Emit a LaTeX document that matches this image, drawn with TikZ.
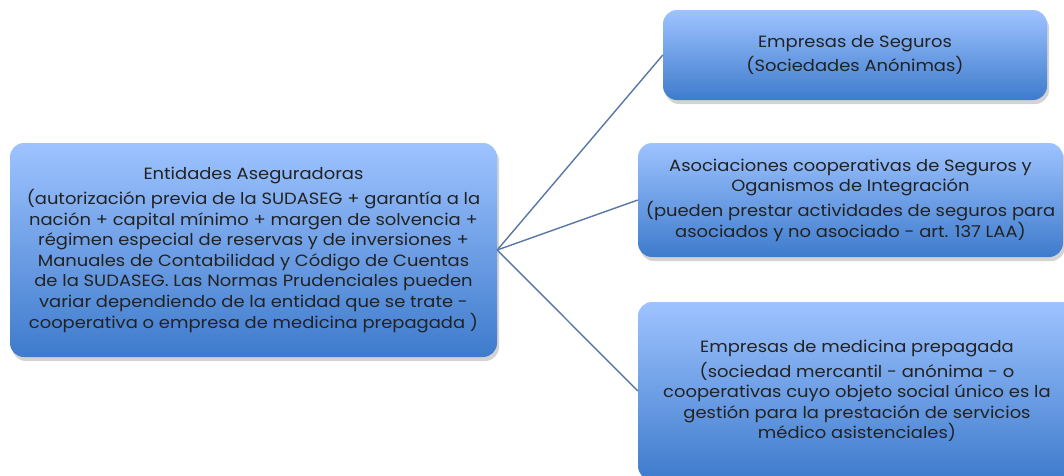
\documentclass[tikz,border=0pt]{standalone}
\usepackage{fontspec}
\setmainfont{Poppins}[FakeStretch=1.1]
\usetikzlibrary{shadows}
\definecolor{boxtop}{HTML}{9EC3FF}
\definecolor{boxbot}{HTML}{3E7BCC}
\definecolor{linkc}{HTML}{5877A6}
\definecolor{txt}{HTML}{222222}
\begin{document}
\begin{tikzpicture}[x=1pt,y=-1pt,
  entbox/.style={rounded corners=14pt, top color=boxtop, bottom color=boxbot,
    draw=none, align=center, text=txt, inner sep=0pt,
    font=\fontsize{16.3}{20.6}\selectfont,
    drop shadow={shadow xshift=2pt, shadow yshift=-4pt, opacity=0.35}},
  link/.style={draw=linkc, line width=1.4pt}]
\useasboundingbox (0,0) rectangle (1064,475);
\node[entbox, minimum width=487pt, minimum height=214pt] (main) at (253.5,250)
  {Entidades Aseguradoras\\[4pt]
  (autorización previa de la SUDASEG + garantía a la\\
  nación + capital mínimo + margen de solvencia +\\
  régimen especial de reservas y de inversiones +\\
  Manuales de Contabilidad y Código de Cuentas\\
  de la SUDASEG. Las Normas Prudenciales pueden\\
  variar dependiendo de la entidad que se trate -\\
  cooperativa o empresa de medicina prepagada )};
\node[entbox, minimum width=384pt, minimum height=90pt] (seg) at (855,55)
  {Empresas de Seguros\\[3pt] (Sociedades Anónimas)};
\node[entbox, minimum width=425pt, minimum height=114pt] (coop) at (850.5,200)
  {Asociaciones cooperativas de Seguros y\\
  Oganismos de Integración\\[4pt]
  (pueden prestar actividades de seguros para\\
  asociados y no asociado - art. 137 LAA)};
\node[entbox, minimum width=438pt, minimum height=178pt] (med) at (857,391)
  {Empresas de medicina prepagada\\[4pt]
  (sociedad mercantil - anónima - o\\
  cooperativas cuyo objeto social único es la\\
  gestión para la prestación de servicios\\
  médico asistenciales)};
\coordinate (hub) at (main.east);
\draw[link] (hub) -- (seg.west);
\draw[link] (hub) -- (coop.west);
\draw[link] (hub) -- (med.west);
\end{tikzpicture}
\end{document}
